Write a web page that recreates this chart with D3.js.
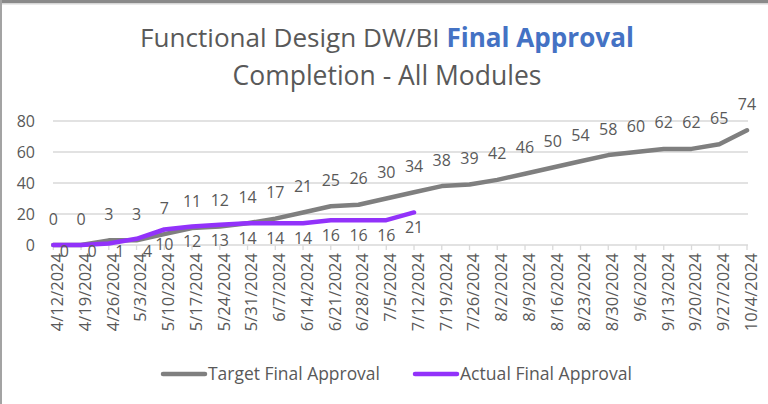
<!DOCTYPE html>
<html>
<head>
<meta charset="utf-8">
<script src="https://cdnjs.cloudflare.com/ajax/libs/d3/7.8.5/d3.min.js"></script>
<style>
	body { margin: 0; background: #fff; }
	svg { display: block; font-family: "Open Sans", Lato, sans-serif; }
</style>
</head>
<body>
<div id="chart"></div>
<script>
	'use strict';

	// weekly categories
	var weeks = ['4/12/2024', '4/19/2024', '4/26/2024', '5/3/2024', '5/10/2024', '5/17/2024', '5/24/2024',
		'5/31/2024', '6/7/2024', '6/14/2024', '6/21/2024', '6/28/2024', '7/5/2024', '7/12/2024', '7/19/2024',
		'7/26/2024', '8/2/2024', '8/9/2024', '8/16/2024', '8/23/2024', '8/30/2024', '9/6/2024', '9/13/2024',
		'9/20/2024', '9/27/2024', '10/4/2024'];
	// series values
	var targetValues = [0, 0, 3, 3, 7, 11, 12, 14, 17, 21, 25, 26, 30, 34, 38, 39, 42, 46, 50, 54, 58, 60, 62, 62, 65, 74];
	var actualValues = [0, 0, 1, 4, 10, 12, 13, 14, 14, 14, 16, 16, 16, 21];
	var yTicks = [0, 20, 40, 60, 80];
	var seriesNames = ['Target Final Approval', 'Actual Final Approval'];

	var width = 768, height = 404;
	var textColor = '#595959';
	var colors = ['#7f7f7f', '#9232fa'];

	var svg = d3.select('#chart').append('svg')
		.attr('width', width)
		.attr('height', height);

	// frame edges seen on the screenshot
	svg.append('rect').attr('x', 0).attr('y', 0).attr('width', width).attr('height', 3).attr('fill', '#8a8a8a');
	svg.append('rect').attr('x', 0).attr('y', 3).attr('width', width).attr('height', 1.5).attr('fill', '#d6d6d6');
	svg.append('rect').attr('x', 0).attr('y', 0).attr('width', 2).attr('height', height).attr('fill', '#a3a3a3');

	// shrink/grow a text's font so it spans the wanted width
	function fitWidth(sel, wanted) {
		var size = parseFloat(sel.style('font-size'));
		var len = sel.node().getComputedTextLength();
		sel.style('font-size', (size * wanted / len) + 'px');
	}

	// title
	var title = svg.append('text')
		.attr('x', 387)
		.attr('y', 47)
		.attr('text-anchor', 'middle')
		.style('font-size', '22px')
		.style('fill', textColor);
	title.append('tspan').text('Functional Design DW/BI ');
	title.append('tspan').text('Final Approval').style('font-weight', 'bold').style('fill', '#4472c4');
	fitWidth(title, 494);

	var subtitle = svg.append('text')
		.attr('x', 387)
		.attr('y', 85)
		.attr('text-anchor', 'middle')
		.style('font-size', '22px')
		.style('fill', textColor)
		.text('Completion - All Modules');
	fitWidth(subtitle, 309);

	// scales
	var x = d3.scalePoint().domain(weeks).range([53.3, 747]);
	var y = d3.scaleLinear().domain([0, 80]).range([245, 121]);

	// gridlines
	svg.append('g')
		.selectAll('line')
		.data(yTicks)
		.enter().append('line')
		.attr('x1', 53).attr('x2', 748)
		.attr('y1', function (d) { return y(d); })
		.attr('y2', function (d) { return y(d); })
		.attr('stroke', '#d9d9d9')
		.attr('stroke-width', 1.3);

	// y axis labels
	svg.append('g')
		.selectAll('text')
		.data(yTicks)
		.enter().append('text')
		.attr('x', 35)
		.attr('y', function (d) { return y(d); })
		.attr('dy', '0.36em')
		.attr('text-anchor', 'end')
		.style('font-size', '16px')
		.style('fill', textColor)
		.text(function (d) { return d; });

	// category ticks + rotated labels
	var xAxis = svg.append('g');
	xAxis.selectAll('line')
		.data(weeks)
		.enter().append('line')
		.attr('x1', function (d) { return x(d); })
		.attr('x2', function (d) { return x(d); })
		.attr('y1', 245).attr('y2', 250)
		.attr('stroke', '#d9d9d9')
		.attr('stroke-width', 1.3);
	xAxis.selectAll('text')
		.data(weeks)
		.enter().append('text')
		.attr('transform', function (d) { return 'translate(' + (x(d) + 4) + ',253) rotate(-90)'; })
		.attr('dy', '0.36em')
		.attr('text-anchor', 'end')
		.style('font-size', '16.5px')
		.style('fill', textColor)
		.text(function (d) { return d; });

	// lines
	var line = d3.line()
		.x(function (d, i) { return x(weeks[i]); })
		.y(function (d) { return y(d); });

	[targetValues, actualValues].forEach(function (values, s) {
		svg.append('path')
			.datum(values)
			.attr('fill', 'none')
			.attr('stroke', colors[s])
			.attr('stroke-width', 4.5)
			.attr('stroke-linejoin', 'round')
			.attr('stroke-linecap', 'round')
			.attr('d', line);
	});

	// data labels: target above the line
	svg.append('g')
		.selectAll('text')
		.data(targetValues)
		.enter().append('text')
		.attr('x', function (d, i) { return x(weeks[i]); })
		.attr('y', function (d) { return y(d) - 20.5; })
		.attr('text-anchor', 'middle')
		.style('font-size', '16px')
		.style('fill', textColor)
		.text(function (d) { return d; });

	// actual below the line; labels that would hit the axis labels are kept above them and nudged right
	var labelFloor = 251;
	svg.append('g')
		.selectAll('text')
		.data(actualValues)
		.enter().append('text')
		.attr('x', function (d, i) { return x(weeks[i]) + (y(d) + 15 > labelFloor ? 11 : 0); })
		.attr('y', function (d) { return Math.min(y(d) + 15, labelFloor); })
		.attr('dy', '0.36em')
		.attr('text-anchor', 'middle')
		.style('font-size', '16px')
		.style('fill', textColor)
		.text(function (d) { return d; });

	// legend
	var legendX = [163, 415];
	var legend = svg.append('g')
		.selectAll('g')
		.data(seriesNames)
		.enter().append('g')
		.attr('transform', function (d, i) { return 'translate(' + legendX[i] + ',374)'; });
	legend.append('line')
		.attr('x1', 0).attr('x2', 42)
		.attr('stroke', function (d, i) { return colors[i]; })
		.attr('stroke-width', 4.5)
		.attr('stroke-linecap', 'round');
	legend.append('text')
		.attr('x', 45)
		.attr('dy', '0.36em')
		.style('font-size', '16px')
		.style('fill', textColor)
		.text(function (d) { return d; })
		.each(function () { fitWidth(d3.select(this), 172); });
</script>
</body>
</html>
